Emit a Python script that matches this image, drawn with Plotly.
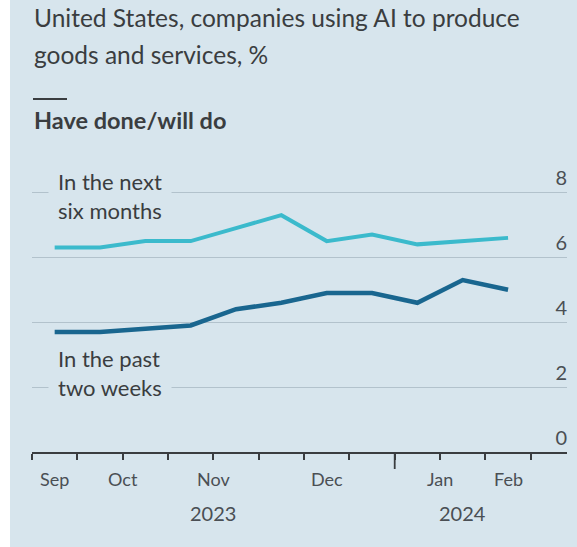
import plotly.graph_objects as go

# Fortnightly survey periods, Sep 2023 - Feb 2024
period = list(range(11))
next_six_months = [6.3, 6.3, 6.5, 6.5, 6.9, 7.3, 6.5, 6.7, 6.4, 6.5, 6.6]
past_two_weeks = [3.7, 3.7, 3.8, 3.9, 4.4, 4.6, 4.9, 4.9, 4.6, 5.3, 5.0]

month_labels = ["Sep", "Oct", "Nov", "Dec", "Jan", "Feb"]
month_pos = [0, 1.5, 3.5, 6, 8.5, 10]
month_edges = [0.5, 2.5, 4.5, 9.5]
period_edges = [i - 0.5 for i in range(12)]
year_labels = ["2023", "2024"]
year_pos = [3.5, 9]
year_edge = 7.5
y_ticks = [0, 2, 4, 6, 8]

W, H = 577, 547
L, R, T, B = 32, 10, 160, 95
PW, PH = W - L - R, H - T - B

BG = "#d7e5ed"
TXT = "#3a3d40"
AXIS_TXT = "#4a4f54"
LIGHT = "#3bbacc"
DARK = "#19668f"
FONT = "Lato"


def xp(px):
    return (px - L) / PW


def yp(py):
    return (H - B - py) / PH


fig = go.Figure()
fig.add_trace(go.Scatter(x=period, y=next_six_months, mode="lines",
                         line=dict(color=LIGHT, width=4), name="In the next six months"))
fig.add_trace(go.Scatter(x=period, y=past_two_weeks, mode="lines",
                         line=dict(color=DARK, width=4.5), name="In the past two weeks"))


def note(text, px, py, size, **kw):
    return dict(x=xp(px), y=yp(py), xref="paper", yref="paper", xanchor="left",
                yanchor="top", align="left", showarrow=False, text=text,
                font=dict(family=FONT, size=size, color=TXT), **kw)


annotations = [
    note("United States, companies using AI to produce", 32, 1, 24.5),
    note("goods and services, %", 32, 38, 24.5),
    note("<b>Have done/will do</b>", 32, 104, 23.5),
    note("In the next<br>six months", 48, 158, 22, bgcolor=BG, borderpad=9),
    note("In the past<br>two weeks", 48, 335, 22, bgcolor=BG, borderpad=9),
]
for lab, pos in zip(month_labels, month_pos):
    annotations.append(dict(x=pos, y=yp(466), xref="x", yref="paper", xanchor="center",
                            yanchor="top", showarrow=False, text=lab,
                            font=dict(family=FONT, size=18, color=AXIS_TXT)))
for lab, pos in zip(year_labels, year_pos):
    annotations.append(dict(x=pos, y=yp(499), xref="x", yref="paper", xanchor="center",
                            yanchor="top", showarrow=False, text=lab,
                            font=dict(family=FONT, size=20, color=AXIS_TXT)))

shapes = [
    # white strip at the left edge
    dict(type="rect", xref="paper", yref="paper", x0=xp(0), x1=xp(10), y0=yp(H), y1=yp(0),
         fillcolor="white", line=dict(width=0), layer="below"),
    # short rule above the subtitle
    dict(type="line", xref="paper", yref="paper", x0=xp(33), x1=xp(67), y0=yp(99), y1=yp(99),
         line=dict(color=TXT, width=2)),
    # year boundary tick
    dict(type="line", xref="x", yref="paper", x0=year_edge, x1=year_edge, y0=0, y1=yp(H - B + 17),
         line=dict(color=TXT, width=1.8)),
]

fig.update_layout(
    width=W, height=H,
    margin=dict(l=L, r=R, t=T, b=B, pad=0),
    paper_bgcolor=BG, plot_bgcolor=BG,
    showlegend=False,
    annotations=annotations,
    shapes=shapes,
    xaxis=dict(
        range=[-0.5, 11.3], showgrid=False, zeroline=False,
        showline=True, linecolor=TXT, linewidth=2,
        tickmode="array", tickvals=month_edges, ticktext=[""] * len(month_edges),
        ticks="outside", ticklen=9, tickwidth=1.5, tickcolor=TXT,
        minor=dict(tickmode="array", tickvals=period_edges, ticks="outside",
                   ticklen=6, tickwidth=1.5, tickcolor=TXT, showgrid=False),
        fixedrange=True,
    ),
    yaxis=dict(
        range=[0, 9], side="right", tickmode="array", tickvals=y_ticks,
        ticks="", showgrid=True, gridcolor="#b2c2cc", gridwidth=1,
        zeroline=False, showline=False,
        ticklabelposition="inside top", ticklabelstandoff=-3,
        tickfont=dict(family=FONT, size=20, color=AXIS_TXT),
        fixedrange=True,
    ),
)

fig.write_html("out.html")
